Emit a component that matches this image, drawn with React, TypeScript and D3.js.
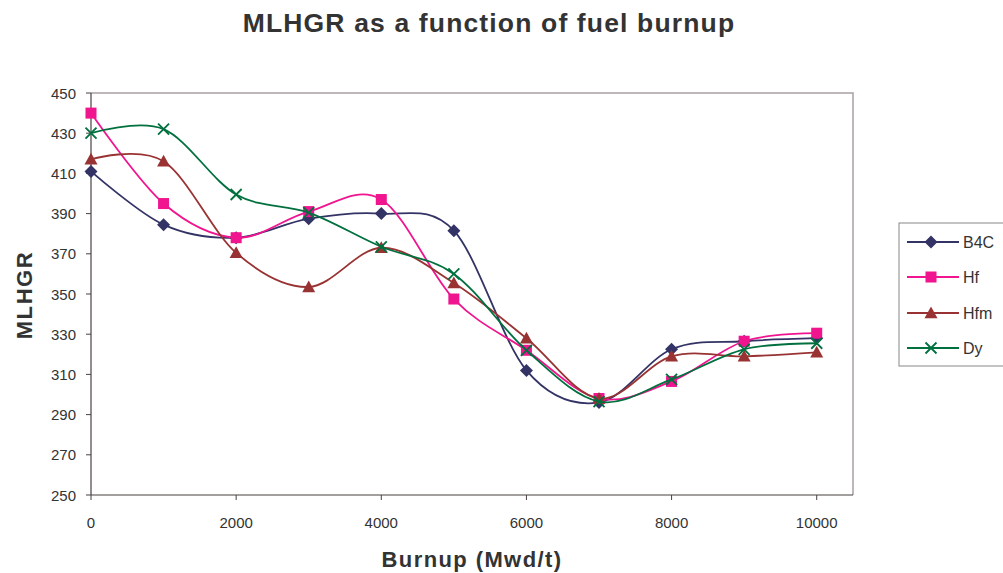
import React from "react";
import * as d3 from "d3";

const burnup = [0, 1000, 2000, 3000, 4000, 5000, 6000, 7000, 8000, 9000, 10000];
const b4c = [411, 384.5, 378, 387.5, 390, 381.5, 312, 296, 322.5, 326.5, 328];
const hf = [440, 395, 378, 391, 397, 347.5, 322, 298, 306.5, 326.5, 330.5];
const hfm = [417, 416, 370.5, 353.5, 373, 355.5, 328, 298, 319, 319, 321];
const dy = [430, 432, 399.5, 390.5, 373.5, 360, 322, 296.5, 307.5, 322.5, 325.5];
const seriesNames = ["B4C", "Hf", "Hfm", "Dy"];
const seriesColors = ["#333366", "#f0148f", "#993333", "#00703f"];
const markerTypes = ["diamond", "square", "triangle", "x"];
const xTicks = [0, 2000, 4000, 6000, 8000, 10000];
const yTicks = [250, 270, 290, 310, 330, 350, 370, 390, 410, 430, 450];

const W = 1003, H = 573;
const left = 91, right = 853, top = 93, bottom = 495;

function Marker({ type, x, y, color }: { type: string; x: number; y: number; color: string }) {
  if (type === "diamond") {
    const s = 6.5;
    return <path d={`M${x},${y - s}L${x + s},${y}L${x},${y + s}L${x - s},${y}Z`} fill={color} />;
  }
  if (type === "square") {
    const s = 5.5;
    return <rect x={x - s} y={y - s} width={2 * s} height={2 * s} fill={color} />;
  }
  if (type === "triangle") {
    const s = 6.5;
    return <path d={`M${x},${y - s}L${x + s},${y + s * 0.8}L${x - s},${y + s * 0.8}Z`} fill={color} />;
  }
  const s = 5.5;
  return (
    <path d={`M${x - s},${y - s}L${x + s},${y + s}M${x - s},${y + s}L${x + s},${y - s}`} stroke={color} strokeWidth={1.8} fill="none" />
  );
}

export default function App() {
  const x = d3.scaleLinear().domain([0, 10500]).range([left, right]);
  const y = d3.scaleLinear().domain([250, 450]).range([bottom, top]);
  const allSeries = [b4c, hf, hfm, dy];
  const line = d3
    .line<number>()
    .x((_, i) => x(burnup[i]))
    .y((d) => y(d))
    .curve(d3.curveCardinal.tension(0));
  const font = "'Liberation Sans', Arial, sans-serif";
  const legendY = [242, 277, 313, 348];
  return (
    <svg width={W} height={H} style={{ position: "absolute", left: 0, top: 0 }} fontFamily={font}>
      <rect width={W} height={H} fill="#fff" />
      <text x={489} y={32} textAnchor="middle" fontSize={26.5} fontWeight="bold" fill="#333" letterSpacing={1.15}>
        MLHGR as a function of fuel burnup
      </text>
      {/* plot frame */}
      <path d={`M${left},${top}H${right}V${bottom}`} stroke="#a8a0a0" strokeWidth={1.5} fill="none" />
      <line x1={left} x2={left} y1={top} y2={bottom} stroke="#4a4040" strokeWidth={1.2} />
      <line x1={left} x2={right} y1={bottom} y2={bottom} stroke="#4a4040" strokeWidth={1.2} />
      {yTicks.map((t) => (
        <g key={t}>
          <line x1={left - 5} x2={left} y1={y(t)} y2={y(t)} stroke="#4a4040" strokeWidth={1} />
          <text x={76} y={y(t) + 5.5} textAnchor="end" fontSize={15} fill="#333">
            {t}
          </text>
        </g>
      ))}
      {xTicks.map((t) => (
        <g key={t}>
          <line x1={x(t)} x2={x(t)} y1={bottom} y2={bottom + 5} stroke="#4a4040" strokeWidth={1} />
          <text x={x(t)} y={528} textAnchor="middle" fontSize={15} fill="#333">
            {t}
          </text>
        </g>
      ))}
      <text
        transform={`translate(32,${(top + bottom) / 2 + 1}) rotate(-90)`}
        textAnchor="middle"
        fontSize={22}
        fontWeight="bold"
        fill="#333"
        letterSpacing={1.6}
      >
        MLHGR
      </text>
      <text x={472} y={567} textAnchor="middle" fontSize={22} fontWeight="bold" fill="#333" letterSpacing={1.4}>
        Burnup (Mwd/t)
      </text>
      {allSeries.map((s, si) => (
        <g key={si}>
          <path d={line(s) || ""} fill="none" stroke={seriesColors[si]} strokeWidth={1.8} />
          {s.map((v, i) => (
            <Marker key={i} type={markerTypes[si]} x={x(burnup[i])} y={y(v)} color={seriesColors[si]} />
          ))}
        </g>
      ))}
      {/* legend */}
      <rect x={899} y={223} width={110} height={143} fill="#fff" stroke="#888" strokeWidth={1} />
      {seriesNames.map((n, i) => (
        <g key={n}>
          <line x1={907} x2={959} y1={legendY[i]} y2={legendY[i]} stroke={seriesColors[i]} strokeWidth={1.8} />
          <Marker type={markerTypes[i]} x={931} y={legendY[i]} color={seriesColors[i]} />
          <text x={963} y={legendY[i] + 6} fontSize={16} fill="#333">
            {n}
          </text>
        </g>
      ))}
    </svg>
  );
}
